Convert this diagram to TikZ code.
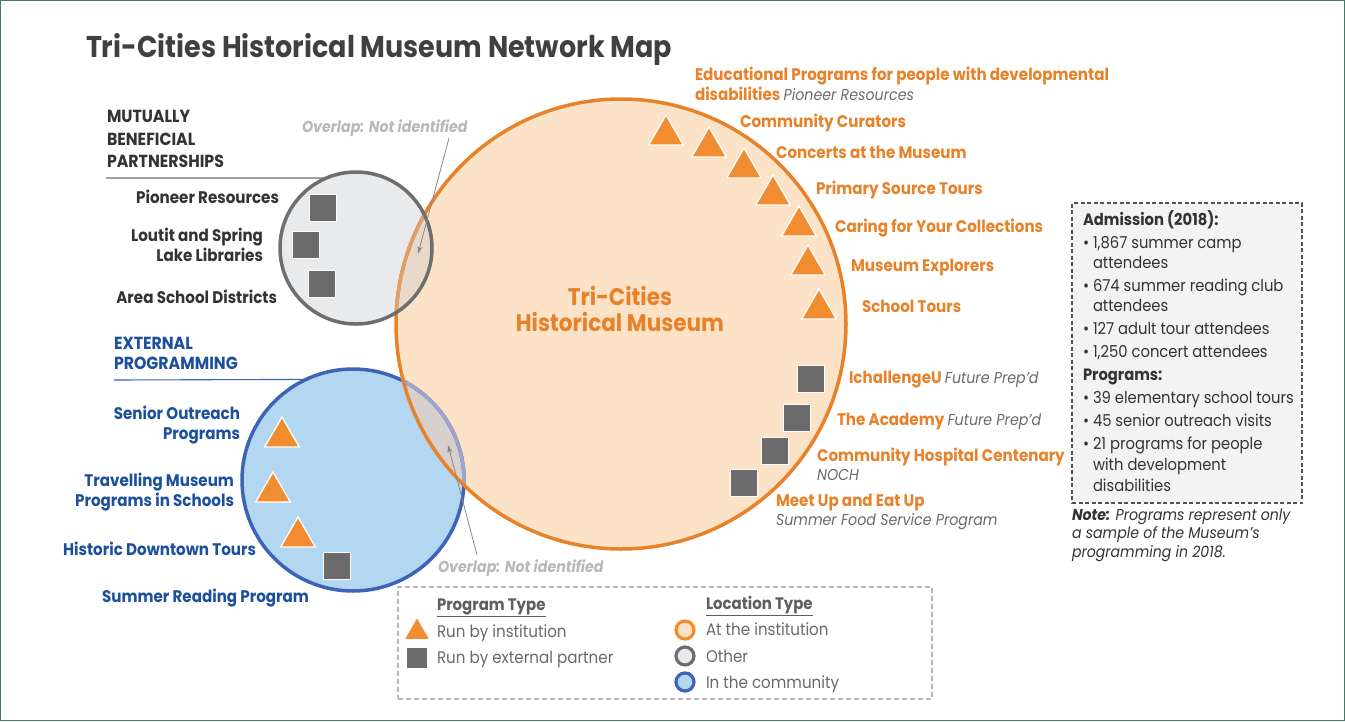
\documentclass[tikz,border=0pt]{standalone}
\usepackage{fontspec}
\setmainfont{Poppins}[FakeStretch=0.9]
\usetikzlibrary{shapes.geometric,arrows.meta}
\definecolor{frameC}{HTML}{3F7D64}
\definecolor{titleC}{HTML}{404040}
\definecolor{darkT}{HTML}{333333}
\definecolor{blueT}{HTML}{1C4F9C}
\definecolor{orT}{HTML}{E8822A}
\definecolor{grayT}{HTML}{6A6A6A}
\definecolor{ovT}{HTML}{B8B8B8}
\definecolor{orFill}{HTML}{FCE3C7}
\definecolor{orEdge}{HTML}{E8822A}
\definecolor{orLight}{HTML}{DDA06A}
\definecolor{grFill}{HTML}{E9EAEB}
\definecolor{grEdge}{HTML}{6E6E6E}
\definecolor{blFill}{HTML}{B4D7F1}
\definecolor{blEdge}{HTML}{3E63B6}
\definecolor{lavEdge}{HTML}{A0A3CB}
\definecolor{ovBlue}{HTML}{D6D1CD}
\definecolor{ovGray}{HTML}{E8D9CA}
\definecolor{triC}{HTML}{F28C30}
\definecolor{sqC}{HTML}{6B6B6B}
\definecolor{boxFill}{HTML}{F3F3F3}
\newcommand\partner[1]{{\mdseries\itshape\fontsize{15.8}{18}\selectfont\color{grayT}#1}}
\newcommand\bul{\makebox[10pt][l]{•}}
\begin{document}
\begin{tikzpicture}[x=1pt,y=-1pt,
  txt/.style={inner sep=0, outer sep=0, anchor=base west},
  txtr/.style={inner sep=0, outer sep=0, anchor=base east},
  orgL/.style={txt, text=orT, font=\bfseries\fontsize{16.8}{19}\selectfont},
  darkL/.style={txtr, text=darkT, font=\bfseries\fontsize{16.8}{19}\selectfont},
  headD/.style={txt, text=darkT, font=\bfseries\fontsize{17.5}{20}\selectfont},
  headB/.style={txt, text=blueT, font=\bfseries\fontsize{17.5}{20}\selectfont},
  blueL/.style={txtr, text=blueT, font=\bfseries\fontsize{16.8}{19}\selectfont},
  ovL/.style={txt, text=ovT, font=\bfseries\itshape\fontsize{15.8}{18}\selectfont},
  boxT/.style={txt, text=darkT, font=\fontsize{16.4}{19}\selectfont},
  boxB/.style={txt, text=darkT, font=\bfseries\fontsize{16.4}{19}\selectfont},
  noteT/.style={txt, text=darkT, font=\itshape\fontsize{15.7}{18}\selectfont},
  legT/.style={txt, text=grayT, font=\fontsize{16.8}{19}\selectfont},
  legH/.style={txt, text=grayT!90!black, font=\bfseries\fontsize{16.6}{19}\selectfont},
  tri/.style={regular polygon, regular polygon sides=3, minimum size=40, inner sep=0, fill=triC, draw=white, line width=1.3},
  sq/.style={rectangle, minimum size=27, inner sep=0, fill=sqC, draw=white, line width=1.3},
  ring/.style={circle, inner sep=0, outer sep=0},
  ovArrow/.style={draw=grayT!80, line width=0.8, -{Stealth[length=8pt,width=5pt]}},
]
\useasboundingbox (0,0) rectangle (1345,721);
\draw[frameC, line width=1.2] (0.6,0.6) rectangle (1344.4,720.4);

% title
\node[txt, text=titleC, font=\bfseries\fontsize{30}{34}\selectfont] (title) at (86,57) {Tri-Cities Historical Museum Network Map};

% circle fills
\fill[blFill] (353,480) circle (111pt);
\fill[orFill] (621,324) circle (225pt);
\fill[grFill] (356,248) circle (76pt);
\begin{scope}
  \clip (621,324) circle (225pt);
  \fill[ovBlue] (353,480) circle (111pt);
  \fill[ovGray] (356,248) circle (76pt);
\end{scope}
% outlines
\draw[blEdge, line width=3.5] (353,480) circle (111pt);
\begin{scope}
  \clip (621,324) circle (225pt);
  \draw[lavEdge, line width=3.5] (353,480) circle (111pt);
\end{scope}
\draw[orEdge, line width=3.5] (621,324) circle (225pt);
\begin{scope}
  \clip (356,248) circle (76pt);
  \draw[orLight, line width=3.5] (621,324) circle (225pt);
\end{scope}
\draw[grEdge, line width=3.5] (356,248) circle (76pt);

% named circle nodes (for connectors)
\node[ring, minimum size=450] (museum) at (621,324) {};
\node[ring, minimum size=152] (other) at (356,248) {};
\node[ring, minimum size=222] (community) at (353,480) {};

% museum label
\node[inner sep=0, anchor=base, text=orT, font=\bfseries\fontsize{24}{28}\selectfont] (mus1) at (620,305) {Tri-Cities};
\node[inner sep=0, anchor=base, text=orT, font=\bfseries\fontsize{24}{28}\selectfont] (mus2) at (620,331) {Historical Museum};

% mutually beneficial partnerships
\node[headD] (mbp1) at (107,122) {MUTUALLY};
\node[headD] (mbp2) at (107,145) {BENEFICIAL};
\node[headD] (mbp3) at (107,167) {PARTNERSHIPS};
\coordinate (mbpLine) at (106,178);
\draw[grEdge, line width=1.1] (mbpLine) -- (other.113);

\node[darkL] (pr) at (279,203) {Pioneer Resources};
\node[darkL] (ls1) at (263,241) {Loutit and Spring};
\node[darkL] (ls2) at (263,261) {Lake Libraries};
\node[darkL] (asd) at (277,303) {Area School Districts};
\node[sq] (sqPR) at (323,208) {};
\node[sq] (sqLS) at (306,245) {};
\node[sq] (sqAS) at (322,284) {};

% overlap top
\node[ovL] (ovTop) at (302,132) {Overlap: Not identified};
\coordinate (ovTa) at (449,138);
\coordinate (ovTb) at (418,254);
\draw[ovArrow] (ovTa) -- (ovTb);

% external programming
\node[headB] (ext1) at (114,349) {EXTERNAL};
\node[headB] (ext2) at (114,369) {PROGRAMMING};
\coordinate (extLine) at (114,380);
\draw[blEdge, line width=1.1] (extLine) -- (community.115);

\node[blueL] (so1) at (240,419) {Senior Outreach};
\node[blueL] (so2) at (240,439) {Programs};
\node[blueL] (tm1) at (234,486) {Travelling Museum};
\node[blueL] (tm2) at (234,506) {Programs in Schools};
\node[blueL] (hdt) at (256,555) {Historic Downtown Tours};
\node[blueL] (srp) at (309,602) {Summer Reading Program};
\node[tri] (triSO) at (282,437) {};
\node[tri] (triTM) at (273,492) {};
\node[tri] (triHD) at (298,537) {};
\node[sq] (sqSR) at (337,566) {};

% overlap bottom
\node[ovL] (ovBot) at (438,572) {Overlap: Not identified};
\coordinate (ovBa) at (477,555);
\coordinate (ovBb) at (448,445);
\draw[ovArrow] (ovBa) -- (ovBb);

% institution programs
\node[orgL] (edu1) at (695,80) {Educational Programs for people with developmental};
\node[orgL] (edu2) at (695,100) {disabilities \partner{Pioneer Resources}};
\node[orgL] (cc) at (740,127) {Community Curators};
\node[orgL] (con) at (776,158) {Concerts at the Museum};
\node[orgL] (pst) at (816,194) {Primary Source Tours};
\node[orgL] (care) at (835,232) {Caring for Your Collections};
\node[orgL] (me) at (851,271) {Museum Explorers};
\node[orgL] (st) at (862,312) {School Tours};
\node[tri] (triEdu) at (666,135) {};
\node[tri] (triCC) at (709,147) {};
\node[tri] (triCon) at (744,168) {};
\node[tri] (triPST) at (773,195) {};
\node[tri] (triCare) at (799,226) {};
\node[tri] (triME) at (808,265) {};
\node[tri] (triST) at (819,309) {};

% partner programs at institution
\node[orgL] (ich) at (849,383) {IchallengeU \partner{Future Prep’d}};
\node[orgL] (acad) at (837,425) {The Academy \partner{Future Prep’d}};
\node[orgL] (chc) at (817,461) {Community Hospital Centenary};
\node[orgL] (noch) at (817,480) {\partner{NOCH}};
\node[orgL] (meet) at (776,506) {Meet Up and Eat Up};
\node[orgL] (sfsp) at (776,525) {\partner{Summer Food Service Program}};
\node[sq] (sqIch) at (811,379) {};
\node[sq] (sqAcad) at (797,418) {};
\node[sq] (sqCHC) at (775,451) {};
\node[sq] (sqMeet) at (744,483) {};

% admission box
\node[draw=darkT!85, fill=boxFill, dash pattern=on 4pt off 2.5pt, line width=1.1, minimum width=230, minimum height=300, inner sep=0] (adm) at (1187,353) {};
\node[boxB] (a0) at (1083,225) {Admission (2018):};
\node[boxT] (a1) at (1083,248) {\bul 1,867 summer camp};
\node[boxT] (a1b) at (1093,268) {attendees};
\node[boxT] (a2) at (1083,291) {\bul 674 summer reading club};
\node[boxT] (a2b) at (1093,311) {attendees};
\node[boxT] (a3) at (1083,334) {\bul 127 adult tour attendees};
\node[boxT] (a4) at (1083,357) {\bul 1,250 concert attendees};
\node[boxB] (p0) at (1083,380) {Programs:};
\node[boxT] (p1) at (1083,403) {\bul 39 elementary school tours};
\node[boxT] (p2) at (1083,426) {\bul 45 senior outreach visits};
\node[boxT] (p3) at (1083,449) {\bul 21 programs for people};
\node[boxT] (p3b) at (1093,470) {with development};
\node[boxT] (p3c) at (1093,491) {disabilities};
\node[noteT] (n1) at (1072,520) {\textbf{Note:} Programs represent only};
\node[noteT] (n2) at (1072,538) {a sample of the Museum’s};
\node[noteT] (n3) at (1072,557) {programming in 2018.};

% legend
\node[draw=ovT, fill=white, dash pattern=on 5pt off 3pt, line width=1.3, minimum width=534, minimum height=112, inner sep=0] (legend) at (665,643) {};
\node[legH] (lgPT) at (437,610) {\underline{Program Type}};
\node[legH] (lgLT) at (706,609) {\underline{Location Type}};
\node[regular polygon, regular polygon sides=3, minimum size=27, inner sep=0, fill=triC] (lgTri) at (417,632) {};
\node[rectangle, minimum size=20, inner sep=0, fill=sqC] (lgSq) at (417,658) {};
\node[legT] (lgT1) at (437,637) {Run by institution};
\node[legT] (lgT2) at (437,663) {Run by external partner};
\node[circle, minimum size=18, inner sep=0, fill=orFill, draw=triC, line width=3.2] (lgC1) at (685,630) {};
\node[circle, minimum size=18, inner sep=0, fill=grFill, draw=grEdge, line width=3.2] (lgC2) at (685,656) {};
\node[circle, minimum size=18, inner sep=0, fill=blFill, draw=blEdge, line width=3.2] (lgC3) at (685,682) {};
\node[legT] (lgL1) at (706,635) {At the institution};
\node[legT] (lgL2) at (706,662) {Other};
\node[legT] (lgL3) at (706,688) {In the community};
\end{tikzpicture}
\end{document}
